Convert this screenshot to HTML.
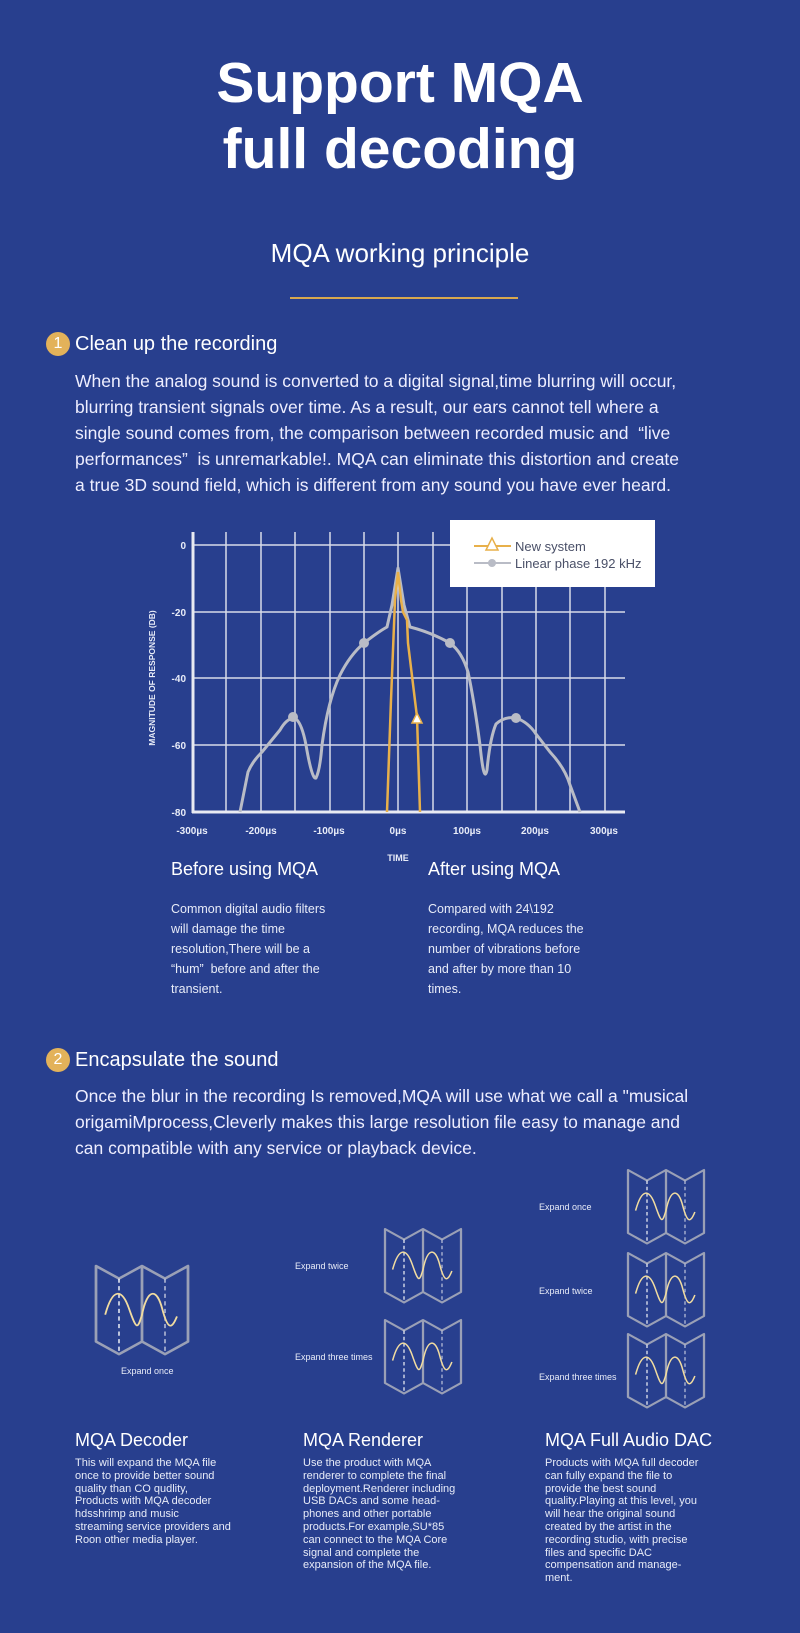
<!DOCTYPE html>
<html><head><meta charset="utf-8"><style>
*{margin:0;padding:0;box-sizing:border-box}
body{width:800px;height:1633px;background:#283f8e;color:#fff;font-family:"Liberation Sans",sans-serif;position:relative;overflow:hidden}
.a{position:absolute;white-space:nowrap}
h1{position:absolute;left:0;width:800px;text-align:center;font-size:57px;font-weight:bold;line-height:66px;top:50px}
.p{font-size:17.5px;line-height:26px;color:#eef}
.num{display:inline-block;width:24px;height:24px;border-radius:50%;background:#e3b25a;color:#fff;font-size:16px;text-align:center;line-height:24px;vertical-align:2px;margin-right:5px}
.sm{font-size:12.5px;line-height:20px;color:#e8ecf8}
.xs{font-family:"Liberation Sans Narrow","Liberation Sans",sans-serif;font-size:11px;line-height:12.8px;color:#e8ecf8}
.lab{font-family:"Liberation Sans Narrow","Liberation Sans",sans-serif;font-size:9px;color:#e8ecf8}
</style></head><body>
<h1>Support MQA<br>full decoding</h1>
<div class="a" style="left:0;width:800px;text-align:center;top:238px;font-size:26px">MQA working principle</div>
<div class="a" style="left:290px;width:228px;top:297px;height:2px;background:#d9a84e"></div>

<div class="a" style="left:46px;top:332px;font-size:20px"><span class="num">1</span>Clean up the recording</div>
<div class="a p" style="left:75px;top:368px">When the analog sound is converted to a digital signal,time blurring will occur,<br>blurring transient signals over time. As a result, our ears cannot tell where a<br>single sound comes from, the comparison between recorded music and &nbsp;“live<br>performances” &nbsp;is unremarkable!. MQA can eliminate this distortion and create<br>a true 3D sound field, which is different from any sound you have ever heard.</div>

<svg class="a" style="left:0;top:0" width="800" height="900" viewBox="0 0 800 900">
<g stroke="#d8dce8" stroke-width="1.5" fill="none">
<line x1="193" y1="545" x2="625" y2="545"/><line x1="193" y1="612" x2="625" y2="612"/>
<line x1="193" y1="678" x2="625" y2="678"/><line x1="193" y1="745" x2="625" y2="745"/>
<line x1="226" y1="532" x2="226" y2="812"/><line x1="261" y1="532" x2="261" y2="812"/><line x1="295" y1="532" x2="295" y2="812"/><line x1="330" y1="532" x2="330" y2="812"/><line x1="364" y1="532" x2="364" y2="812"/><line x1="398" y1="532" x2="398" y2="812"/><line x1="433" y1="532" x2="433" y2="812"/><line x1="467" y1="532" x2="467" y2="812"/><line x1="502" y1="532" x2="502" y2="812"/><line x1="536" y1="532" x2="536" y2="812"/><line x1="570" y1="532" x2="570" y2="812"/><line x1="605" y1="532" x2="605" y2="812"/>
</g>
<line x1="193" y1="532" x2="193" y2="813" stroke="#e8eaf2" stroke-width="3"/>
<line x1="192" y1="812" x2="625" y2="812" stroke="#e8eaf2" stroke-width="3"/>
<path fill="none" stroke="#b9bcc6" stroke-width="3" stroke-linejoin="round" d="M240,812 L248,772 Q252,762 262,752 L280,730 Q288,716 296,719 Q302,724 306,745 Q312,780 316,778 Q320,770 322,745 Q328,700 340,675 Q350,655 364,643 Q378,632 387,627 L392,605 L398,568 L404,605 L410,627 Q430,632 450,643 Q462,652 468,672 Q474,700 480,745 Q484,785 487,770 Q490,738 496,724 Q505,716 516,718 Q528,722 536,734 L550,752 Q565,768 570,785 L580,812"/>
<g fill="#b9bcc6"><circle cx="293" cy="717" r="5"/><circle cx="364" cy="643" r="5"/><circle cx="450" cy="643" r="5"/><circle cx="516" cy="718" r="5"/></g>
<polyline fill="none" stroke="#e8b04a" stroke-width="2.5" points="387,812 391,700 395,600 398,572 401,600 403,612 407,620 408,643 417,717 420,812"/>
<polygon points="417,713 412,723 422,723" fill="#fff" stroke="#e8b04a" stroke-width="1.5"/>
<rect x="450" y="520" width="205" height="67" fill="#fff"/>
<line x1="474" y1="546" x2="511" y2="546" stroke="#e8b04a" stroke-width="2"/>
<polygon points="492,538 486,550 498,550" fill="#fff" stroke="#e8b04a" stroke-width="1.5"/>
<line x1="474" y1="563" x2="511" y2="563" stroke="#b9bcc6" stroke-width="2"/>
<circle cx="492" cy="563" r="4" fill="#b9bcc6"/>
<text x="515" y="551" font-size="13" fill="#4a5068" font-family="Liberation Sans">New system</text>
<text x="515" y="568" font-size="13" fill="#4a5068" font-family="Liberation Sans">Linear phase 192 kHz</text>
<g font-family="Liberation Sans Narrow,Liberation Sans" font-weight="bold" font-size="10" fill="#e8ecf8" text-anchor="end">
<text x="186" y="549">0</text><text x="186" y="616">-20</text><text x="186" y="682">-40</text><text x="186" y="749">-60</text><text x="186" y="816">-80</text></g>
<g font-family="Liberation Sans Narrow,Liberation Sans" font-weight="bold" font-size="10" fill="#e8ecf8" text-anchor="middle">
<text x="192" y="834">-300µs</text><text x="261" y="834">-200µs</text><text x="329" y="834">-100µs</text><text x="398" y="834">0µs</text><text x="467" y="834">100µs</text><text x="535" y="834">200µs</text><text x="604" y="834">300µs</text>
<text x="398" y="861" font-size="9">TIME</text>
<text transform="translate(155,678) rotate(-90)" font-size="8.5">MAGNITUDE OF RESPONSE (DB)</text></g>
</svg>

<div class="a" style="left:171px;top:859px;font-size:18px">Before using MQA</div>
<div class="a sm" style="left:171px;top:899px">Common digital audio filters<br>will damage the time<br>resolution,There will be a<br>“hum” &nbsp;before and after the<br>transient.</div>
<div class="a" style="left:428px;top:859px;font-size:18px">After using MQA</div>
<div class="a sm" style="left:428px;top:899px">Compared with 24\192<br>recording, MQA reduces the<br>number of vibrations before<br>and after by more than 10<br>times.</div>

<div class="a" style="left:46px;top:1048px;font-size:20px"><span class="num">2</span>Encapsulate the sound</div>
<div class="a p" style="left:75px;top:1083px">Once the blur in the recording Is removed,MQA will use what we call a "musical<br>origamiMprocess,Cleverly makes this large resolution file easy to manage and<br>can compatible with any service or playback device.</div>

<svg class="a" style="left:0;top:0" width="800" height="1633">
<defs><g id="ic">
<polygon points="0,0 25,15 50,0 75,15 100,0 100,90 75,105 50,90 25,105 0,90" fill="none" stroke="#9aa0b6" stroke-width="3" stroke-linejoin="round"/>
<line x1="50" y1="0" x2="50" y2="90" stroke="#9aa0b6" stroke-width="3"/>
<line x1="25" y1="15" x2="25" y2="105" stroke="#fff" stroke-width="1.5" stroke-dasharray="5,4"/>
<line x1="75" y1="15" x2="75" y2="105" stroke="#c8cce0" stroke-width="1.5" stroke-dasharray="5,4"/>
<path d="M10,58 C18,26 28,26 36,51 S45,76 50,58 C56,26 66,26 72,51 S82,76 88,60" fill="none" stroke="#f1dca0" stroke-width="2"/>
</g></defs>
<use href="#ic" transform="translate(96,1266) scale(0.92,0.84)"/>
<use href="#ic" transform="translate(385,1229) scale(0.76,0.70)"/>
<use href="#ic" transform="translate(385,1320) scale(0.76,0.70)"/>
<use href="#ic" transform="translate(628,1170) scale(0.76,0.70)"/>
<use href="#ic" transform="translate(628,1253) scale(0.76,0.70)"/>
<use href="#ic" transform="translate(628,1334) scale(0.76,0.70)"/>
</svg>
<div class="a lab" style="left:121px;top:1366px">Expand once</div>
<div class="a lab" style="left:295px;top:1261px">Expand twice</div>
<div class="a lab" style="left:295px;top:1352px">Expand three times</div>
<div class="a lab" style="left:539px;top:1202px">Expand once</div>
<div class="a lab" style="left:539px;top:1286px">Expand twice</div>
<div class="a lab" style="left:539px;top:1372px">Expand three times</div>

<div class="a" style="left:75px;top:1430px;font-size:18px">MQA Decoder</div>
<div class="a xs" style="left:75px;top:1457px">This will expand the MQA file<br>once to provide better sound<br>quality than CO qudlity,<br>Products with MQA decoder<br>hdsshrimp and music<br>streaming service providers and<br>Roon other media player.</div>
<div class="a" style="left:303px;top:1430px;font-size:18px">MQA Renderer</div>
<div class="a xs" style="left:303px;top:1457px">Use the product with MQA<br>renderer to complete the final<br>deployment.Renderer including<br>USB DACs and some head-<br>phones and other portable<br>products.For example,SU*85<br>can connect to the MQA Core<br>signal and complete the<br>expansion of the MQA file.</div>
<div class="a" style="left:545px;top:1430px;font-size:18px">MQA Full Audio DAC</div>
<div class="a xs" style="left:545px;top:1457px">Products with MQA full decoder<br>can fully expand the file to<br>provide the best sound<br>quality.Playing at this level, you<br>will hear the original sound<br>created by the artist in the<br>recording studio, with precise<br>files and specific DAC<br>compensation and manage-<br>ment.</div>
</body></html>
